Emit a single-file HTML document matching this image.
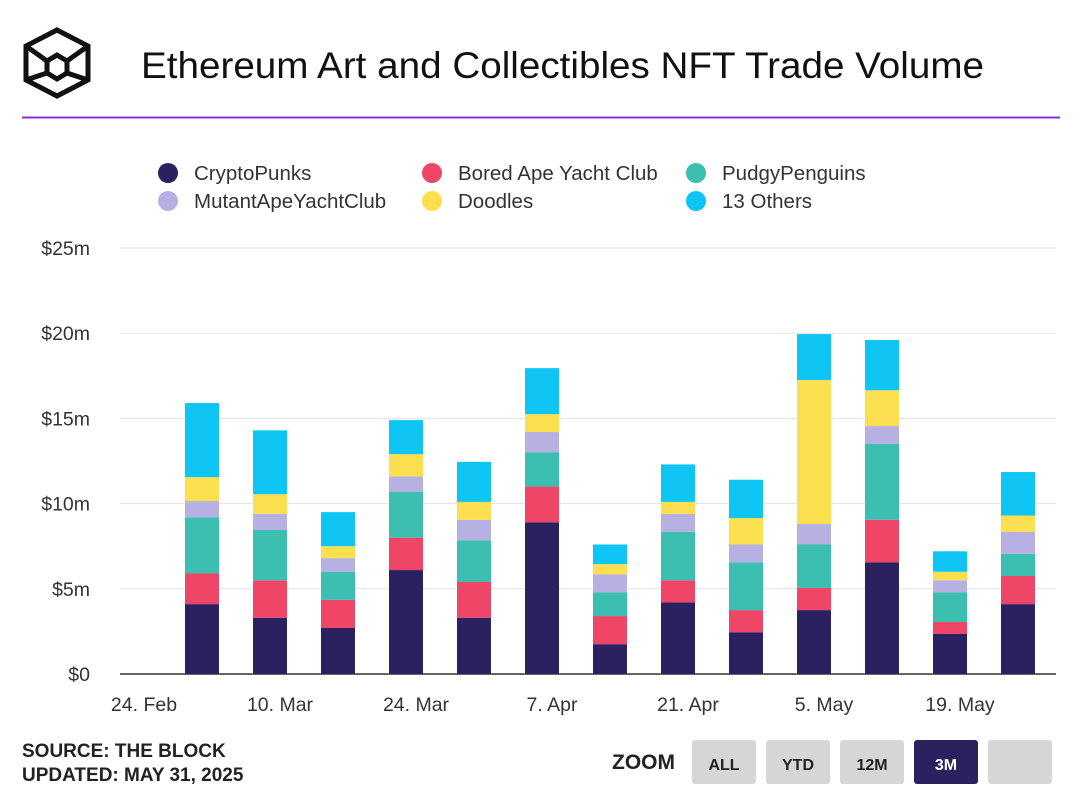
<!DOCTYPE html>
<html><head><meta charset="utf-8"><style>
body{margin:0;background:#fff;font-family:"Liberation Sans",sans-serif;}
svg text{font-family:"Liberation Sans",sans-serif;}
</style></head><body>
<svg id="chart" width="1082" height="798">
<g fill="none" stroke="#111" stroke-width="5">
<polygon points="57,30 88,46 88,80 57,96 26,80 26,46"/>
<polygon points="57,55 67,61 67,73 57,79 47,73 47,61"/>
<line x1="26" y1="46" x2="47" y2="61"/><line x1="88" y1="46" x2="67" y2="61"/>
<line x1="26" y1="80" x2="47" y2="73"/><line x1="88" y1="80" x2="67" y2="73"/>
</g>
<text x="141" y="78" font-size="37" textLength="843" lengthAdjust="spacingAndGlyphs" fill="#111">Ethereum Art and Collectibles NFT Trade Volume</text>
<line x1="22" y1="117.5" x2="1060" y2="117.5" stroke="#8b2bd9" stroke-width="2"/>
<g id="legend"></g>
<g id="grid"></g>
<g id="bars"></g>
<g id="xaxis"></g>
<text x="22" y="757" font-size="19" font-weight="bold" fill="#222">SOURCE: THE BLOCK</text>
<text x="22" y="781" font-size="19" font-weight="bold" fill="#222">UPDATED: MAY 31, 2025</text>
<text x="612" y="769" font-size="21" font-weight="bold" fill="#222">ZOOM</text>
<g><rect x="692" y="740" width="64" height="44" rx="3" fill="#d6d6d6"/><text x="724" y="770" font-size="16" font-weight="bold" text-anchor="middle" fill="#222">ALL</text></g>
<g><rect x="766" y="740" width="64" height="44" rx="3" fill="#d6d6d6"/><text x="798" y="770" font-size="16" font-weight="bold" text-anchor="middle" fill="#222">YTD</text></g>
<g><rect x="840" y="740" width="64" height="44" rx="3" fill="#d6d6d6"/><text x="872" y="770" font-size="16" font-weight="bold" text-anchor="middle" fill="#222">12M</text></g>
<g><rect x="914" y="740" width="64" height="44" rx="3" fill="#2b2160"/><text x="946" y="770" font-size="16" font-weight="bold" text-anchor="middle" fill="#fff">3M</text></g>
<g><rect x="988" y="740" width="64" height="44" rx="3" fill="#d6d6d6"/></g>
</svg>
<script>
const seriesNames=["CryptoPunks","Bored Ape Yacht Club","PudgyPenguins","MutantApeYachtClub","Doodles","13 Others"];
const cryptoPunks=[4.1,3.3,2.7,6.1,3.3,8.9,1.75,4.2,2.45,3.75,6.55,2.35,4.1];
const boredApe=[1.8,2.2,1.65,1.9,2.1,2.1,1.65,1.3,1.3,1.3,2.5,0.7,1.65];
const pudgy=[3.3,2.95,1.65,2.7,2.45,2.0,1.4,2.85,2.8,2.55,4.45,1.75,1.3];
const mutantApe=[0.95,0.95,0.8,0.9,1.2,1.2,1.05,1.05,1.05,1.2,1.05,0.7,1.3];
const doodles=[1.4,1.15,0.7,1.3,1.05,1.05,0.6,0.7,1.55,8.45,2.1,0.5,0.95];
const others=[4.35,3.75,2.0,2.0,2.35,2.7,1.15,2.2,2.25,2.7,2.95,1.2,2.55];
const yTicks=[0,5,10,15,20,25];
const yTickLabels=["$0","$5m","$10m","$15m","$20m","$25m"];
const xTickLabels=["24. Feb","10. Mar","24. Mar","7. Apr","21. Apr","5. May","19. May"];
const colors=["#2b2160","#ef4566","#3cbfb0","#b7b0e3","#fcdf4f","#0ec5f3"];
const NS="http://www.w3.org/2000/svg";
const y=v=>674-v*17.04;
const x=t=>202+68*t;
function mk(tag,attrs,parent){const e=document.createElementNS(NS,tag);for(const k in attrs)e.setAttribute(k,attrs[k]);parent.appendChild(e);return e;}
const grid=document.getElementById('grid');
yTicks.forEach((v,i)=>{
  const l=mk('line',{x1:120,x2:1056,y1:y(v),y2:y(v),stroke:v===0?'#333':'#e3e3e3','stroke-width':v===0?1.5:1},grid);
  
  
  const t=mk('text',{x:90,y:y(v)+7,'font-size':19.5,'text-anchor':'end',fill:'#333'},grid);
  t.textContent=yTickLabels[i];
  
  
});
const xa=document.getElementById('xaxis');
xTickLabels.forEach((s,i)=>{
  const t=mk('text',{x:x(-0.853+2*i),y:711,'font-size':19.5,'text-anchor':'middle',fill:'#333'},xa);
  t.textContent=s;
  
  
});
const series=[cryptoPunks,boredApe,pudgy,mutantApe,doodles,others];
const bars=document.getElementById('bars');
cryptoPunks.forEach((_,i)=>{
  let cum=0;
  series.forEach((s,k)=>{
    const r=mk('rect',{x:x(i)-17,width:34,y:y(cum+s[i]),height:y(cum)-y(cum+s[i]),fill:colors[k]},bars);
    
    
    cum+=s[i];
  });
});
const lg=document.getElementById('legend');
const lpos=[[168,174],[432,174],[696,174],[168,202],[432,202],[696,202]];
const order=[0,1,2,3,4,5];
order.forEach((k,j)=>{
  const g=mk('g',{},lg);
  
  
  mk('circle',{cx:lpos[j][0],cy:lpos[j][1]-1,r:10,fill:colors[k]},g);
  const t=mk('text',{x:lpos[j][0]+26,y:lpos[j][1]+6,'font-size':20.5,fill:'#333'},g);
  t.textContent=seriesNames[k];
});
</script>
</body></html>
